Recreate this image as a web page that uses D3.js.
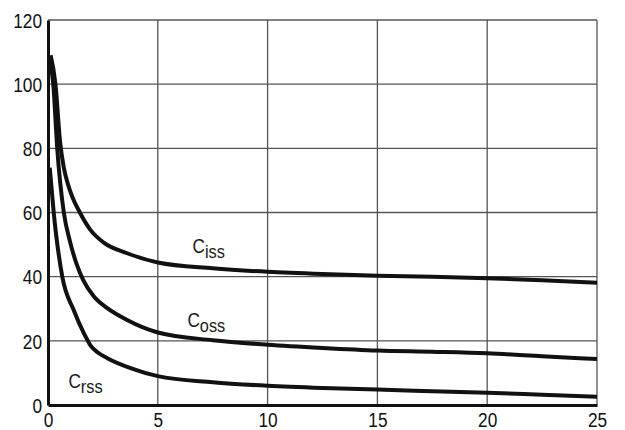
<!DOCTYPE html>
<html>
<head>
<meta charset="utf-8">
<script src="https://cdn.jsdelivr.net/npm/d3@7"></script>
<style>
	body { margin: 0; background: #fff; }
	text { font-family: "Liberation Sans Narrow", "Arial Narrow", "Liberation Sans", sans-serif; fill: #1a1a1a; }
</style>
</head>
<body>
<svg id="chart" width="625" height="430"></svg>
<script>
// capacitance curves (x = volts, y = pF)
var cissData = [[0.12,109],[0.34,100],[0.55,82],[0.72,74],[0.9,69],[1.1,65],[1.45,60],[1.94,54.5],[2.54,50.6],
	[3.6,47.3],[5,44.4],[7.5,42.6],[10,41.5],[12.5,40.8],[15,40.3],[17.5,40],[20,39.5],[22.5,38.9],[25,38.1]];
var cossData = [[0.08,108],[0.24,100],[0.42,80],[0.72,60],[1.0,51],[1.3,44],[1.6,39],[2.09,33.8],[2.7,30.2],
	[3.6,26.5],[5,22.6],[7.5,20.2],[10,18.8],[12.5,17.8],[15,17.0],[17.5,16.6],[20,16.1],[22.5,15.2],[25,14.3]];
var crssData = [[0.08,74],[0.26,60],[0.65,40],[1.17,29.6],[1.63,22.4],[1.94,18.5],[2.3,16.2],[2.7,14.6],[3.76,11.5],
	[5,9.0],[7.5,7.1],[10,6.0],[12.5,5.3],[15,4.8],[17.5,4.3],[20,3.8],[22.5,3.2],[25,2.6]];

var xTicks = [0, 5, 10, 15, 20, 25];
var yTicks = [0, 20, 40, 60, 80, 100, 120];

var labels = [
	{ main: "C", sub: "iss", x: 6.58, y: 47.4 },
	{ main: "C", sub: "oss", x: 6.35, y: 24.4 },
	{ main: "C", sub: "rss", x: 0.93, y: 5.4 }
];

var svg = d3.select("#chart");

var x = d3.scaleLinear().domain([0, 25]).range([48, 597]);
var y = d3.scaleLinear().domain([0, 120]).range([405, 20]);

// grid
svg.append("g").selectAll("line.vgrid")
	.data(xTicks.slice(1))
	.enter().append("line")
	.attr("x1", function(d){ return x(d); })
	.attr("x2", function(d){ return x(d); })
	.attr("y1", y(0))
	.attr("y2", y(120))
	.style("stroke", "#555")
	.style("stroke-width", 1.3);

svg.append("g").selectAll("line.hgrid")
	.data(yTicks.slice(1))
	.enter().append("line")
	.attr("x1", x(0))
	.attr("x2", x(25))
	.attr("y1", function(d){ return y(d); })
	.attr("y2", function(d){ return y(d); })
	.style("stroke", "#555")
	.style("stroke-width", 1.3);

// axes
var xAxis = d3.axisBottom(x).tickValues(xTicks).tickSize(0).tickPadding(8);
var yAxis = d3.axisLeft(y).tickValues(yTicks).tickSize(0).tickPadding(6);

var gx = svg.append("g").attr("transform", "translate(0," + y(0) + ")").call(xAxis);
var gy = svg.append("g").attr("transform", "translate(" + x(0) + ",0)").call(yAxis);

[gx, gy].forEach(function(g)
{
	g.select(".domain").style("stroke", "#111").style("stroke-width", 3);
	g.selectAll("text").style("font-size", "20px").style("fill", "#111")
		.style("font-family", "'Liberation Sans Narrow', 'Arial Narrow', 'Liberation Sans', sans-serif")
		.attr("textLength", function(d){ return 9.6 * String(d).length; })
		.attr("lengthAdjust", "spacingAndGlyphs");
});
gx.selectAll("text").attr("dy", "0.7em");
gy.selectAll("text").attr("dy", "0.36em");

// curves
var line = d3.line()
	.x(function(d){ return x(d[0]); })
	.y(function(d){ return y(d[1]); })
	.curve(d3.curveMonotoneX);

svg.append("g").selectAll("path.curve")
	.data([cissData, cossData, crssData])
	.enter().append("path")
	.attr("d", line)
	.style("fill", "none")
	.style("stroke", "#111")
	.style("stroke-width", 4)
	.style("stroke-linejoin", "round");

// curve labels
var lbl = svg.append("g").selectAll("text.lbl")
	.data(labels)
	.enter().append("text")
	.attr("transform", function(d){ return "translate(" + x(d.x) + "," + y(d.y) + ") scale(0.86,1)"; })
	.style("font-size", "20px");

lbl.append("tspan").text(function(d){ return d.main; });
lbl.append("tspan").attr("dy", 5).style("font-size", "19px").text(function(d){ return d.sub; });
</script>
</body>
</html>
